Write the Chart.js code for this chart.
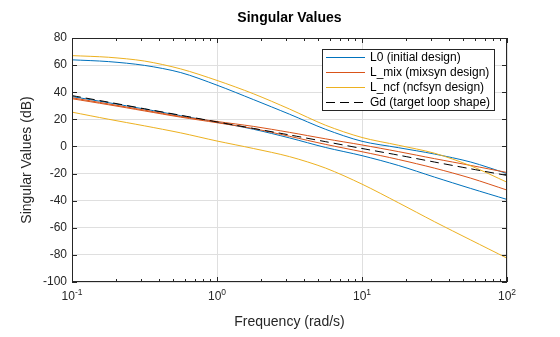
<!DOCTYPE html>
<html>
<head>
<meta charset="utf-8">
<script src="https://cdn.jsdelivr.net/npm/chart.js@4.4.1/dist/chart.umd.min.js"></script>
<style>
  html, body { margin: 0; padding: 0; background: #fff; }
  canvas { display: block; }
</style>
</head>
<body>
<canvas id="sv" width="560" height="337"></canvas>
<script>
// Frequency samples (rad/s), quarter-decade spacing
const freq = [0.1, 0.178, 0.316, 0.562, 1, 1.78, 3.16, 5.62, 10, 17.8, 31.6, 56.2, 100];

// Singular values in dB, two per open-loop design
const L0_upper   = [63.9, 62.6, 59.8, 54.5, 45.2, 34.6, 23.8, 12.6, 3.8, -0.9, -5.6, -11.5, -20.0];
const L0_lower   = [36.8, 32.3, 27.6, 22.7, 17.9, 12.7, 6.3, -0.8, -6.8, -14.0, -22.6, -31.0, -39.1];
const Lmix_upper = [35.9, 31.4, 26.8, 22.1, 18.4, 14.8, 10.4, 5.6, 1.1, -3.8, -9.0, -14.0, -19.2];
const Lmix_lower = [35.2, 30.8, 26.2, 21.6, 17.5, 13.2, 7.5, 1.5, -3.9, -9.6, -16.0, -23.4, -32.2];
const Lncf_upper = [67.0, 65.8, 63.0, 57.2, 48.7, 38.9, 27.6, 15.6, 6.6, 0.9, -5.0, -14.3, -26.4];
const Lncf_lower = [25.3, 20.1, 15.2, 10.0, 4.0, -1.5, -7.5, -16.0, -27.8, -41.5, -55.5, -69.0, -82.4];
const Gd         = [37.5, 32.7, 27.8, 23.0, 18.1, 13.3, 8.5, 3.5, -1.5, -6.4, -11.5, -16.5, -21.4];

// Axis ticks
const xTickValues = [0.1, 1, 10, 100];
const xTickExponents = ['-1', '0', '1', '2'];
const xMinorMultipliers = [2, 3, 4, 5, 6, 7, 8, 9];

const legendLabels = ['L0 (initial design)', 'L_mix (mixsyn design)', 'L_ncf (ncfsyn design)', 'Gd (target loop shape)'];

const FONT = "'Liberation Sans', Arial, Helvetica, sans-serif";
const AXIS_COLOR = '#262626';
const BLUE = '#0072BD', ORANGE = '#D95319', YELLOW = '#EDB120', BLACK = '#000000';
const GD_DASH = [9, 5];

function series(label, values, color, order, dash) {
  return {
    label,
    data: freq.map((f, i) => ({ x: f, y: values[i] })),
    borderColor: color,
    backgroundColor: color,
    borderWidth: 1,
    borderDash: dash || [],
    pointRadius: 0,
    fill: false,
    order,
    tension: 0.3
  };
}

const datasets = [
  series('L0 (initial design)', L0_upper, BLUE, 3),
  series('L0 (initial design)', L0_lower, BLUE, 3),
  series('L_mix (mixsyn design)', Lmix_upper, ORANGE, 2),
  series('L_mix (mixsyn design)', Lmix_lower, ORANGE, 2),
  series('L_ncf (ncfsyn design)', Lncf_upper, YELLOW, 1),
  series('L_ncf (ncfsyn design)', Lncf_lower, YELLOW, 1),
  series('Gd (target loop shape)', Gd, BLACK, 0, GD_DASH)
];

const legendStyles = [
  { color: BLUE, dash: [] },
  { color: ORANGE, dash: [] },
  { color: YELLOW, dash: [] },
  { color: BLACK, dash: GD_DASH }
];

// White background, axes box with inward ticks, x tick labels with exponents, legend
const framePlugin = {
  id: 'frame',
  beforeDraw(chart) {
    const ctx = chart.ctx;
    ctx.save();
    ctx.fillStyle = '#ffffff';
    ctx.fillRect(0, 0, chart.width, chart.height);
    ctx.restore();
  },
  afterDraw(chart) {
    const { ctx, chartArea: { left, right, top, bottom }, scales: { x, y } } = chart;
    ctx.save();
    ctx.strokeStyle = AXIS_COLOR;
    ctx.lineWidth = 1;
    ctx.setLineDash([]);

    ctx.beginPath();
    // y ticks on both sides
    y.ticks.forEach(t => {
      const py = Math.round(y.getPixelForValue(t.value)) + 0.5;
      ctx.moveTo(left, py); ctx.lineTo(left + 5, py);
      ctx.moveTo(right, py); ctx.lineTo(right - 5, py);
    });
    // x major ticks, bottom and top
    xTickValues.forEach(v => {
      const px = Math.round(x.getPixelForValue(v)) + 0.5;
      ctx.moveTo(px, bottom); ctx.lineTo(px, bottom - 5);
      ctx.moveTo(px, top); ctx.lineTo(px, top + 5);
    });
    // x minor ticks
    xTickValues.slice(0, -1).forEach(d => {
      xMinorMultipliers.forEach(m => {
        const px = Math.round(x.getPixelForValue(d * m)) + 0.5;
        ctx.moveTo(px, bottom); ctx.lineTo(px, bottom - 3);
        ctx.moveTo(px, top); ctx.lineTo(px, top + 3);
      });
    });
    ctx.stroke();
    ctx.strokeRect(left + 0.5, top + 0.5, right - left - 1, bottom - top - 1);

    // x tick labels: base 10 with a raised exponent
    ctx.fillStyle = AXIS_COLOR;
    ctx.textBaseline = 'middle';
    ctx.textAlign = 'left';
    xTickValues.forEach((v, i) => {
      const px = x.getPixelForValue(v);
      ctx.font = `12px ${FONT}`;
      const bw = ctx.measureText('10').width;
      ctx.font = `8.5px ${FONT}`;
      const ew = ctx.measureText(xTickExponents[i]).width;
      const x0 = px - (bw + ew) / 2;
      ctx.font = `12px ${FONT}`;
      ctx.fillText('10', x0, bottom + 15);
      ctx.font = `8.5px ${FONT}`;
      ctx.fillText(xTickExponents[i], x0 + bw, bottom + 10.5);
    });

    // legend box in the upper right of the axes
    ctx.font = `12px ${FONT}`;
    const textW = Math.max(...legendLabels.map(s => ctx.measureText(s).width));
    const sampleW = 39, rowH = 15;
    const boxW = 4 + sampleW + 5 + textW + 5;
    const boxH = legendLabels.length * rowH + 2;
    const bx = Math.round(right - 12 - boxW);
    const by = top + 11;
    ctx.fillStyle = '#ffffff';
    ctx.fillRect(bx, by, boxW, boxH);
    ctx.strokeStyle = AXIS_COLOR;
    ctx.strokeRect(bx + 0.5, by + 0.5, Math.round(boxW) - 1, boxH - 1);
    legendLabels.forEach((lab, i) => {
      const cy = by + 8 + i * rowH + 0.5;
      ctx.beginPath();
      ctx.strokeStyle = legendStyles[i].color;
      ctx.setLineDash(legendStyles[i].dash);
      ctx.moveTo(bx + 4, cy);
      ctx.lineTo(bx + 4 + sampleW, cy);
      ctx.stroke();
      ctx.setLineDash([]);
      ctx.fillStyle = '#000000';
      ctx.textAlign = 'left';
      ctx.textBaseline = 'middle';
      ctx.fillText(lab, bx + 4 + sampleW + 5, cy);
    });
    ctx.restore();
  }
};

new Chart(document.getElementById('sv'), {
  type: 'line',
  data: { datasets },
  plugins: [framePlugin],
  options: {
    responsive: false,
    animation: false,
    devicePixelRatio: 1,
    layout: { padding: { left: 0, right: 53, top: 0, bottom: 0 } },
    plugins: {
      legend: { display: false },
      tooltip: { enabled: false },
      title: {
        display: true,
        text: 'Singular Values',
        fullSize: false,
        color: '#000000',
        font: { family: FONT, size: 14, weight: 'bold' },
        padding: { top: 9.6, bottom: 11.6 }
      }
    },
    elements: { point: { radius: 0 } },
    scales: {
      x: {
        type: 'logarithmic',
        min: 0.1,
        max: 100,
        afterBuildTicks: s => { s.ticks = xTickValues.map(v => ({ value: v })); },
        afterFit: s => { s.height = 55; },
        ticks: { display: false },
        grid: { color: '#dfdfdf', drawTicks: false },
        border: { display: false },
        title: {
          display: true,
          text: 'Frequency (rad/s)',
          color: AXIS_COLOR,
          font: { family: FONT, size: 14 },
          padding: { top: 0, bottom: 6 }
        }
      },
      y: {
        type: 'linear',
        min: -100,
        max: 80,
        afterFit: s => { s.width = 72; },
        ticks: { stepSize: 20, color: AXIS_COLOR, font: { family: FONT, size: 12 }, padding: 5 },
        grid: { color: '#dfdfdf', drawTicks: false },
        border: { display: false },
        title: {
          display: true,
          text: 'Singular Values (dB)',
          color: AXIS_COLOR,
          font: { family: FONT, size: 14 },
          padding: { top: 19, bottom: 0 }
        }
      }
    }
  }
});
</script>
</body>
</html>
